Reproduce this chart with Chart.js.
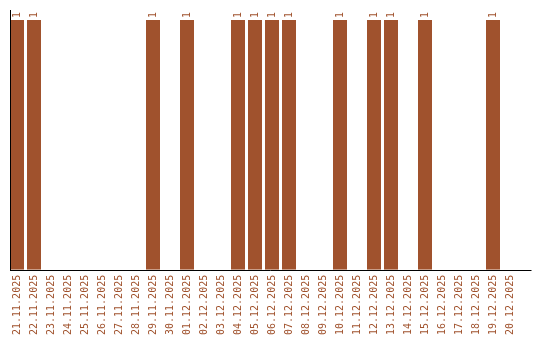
<!DOCTYPE html>
<html>
<head>
<meta charset="utf-8">
<script src="https://cdn.jsdelivr.net/npm/chart.js@4"></script>
<style>
  html, body { margin: 0; padding: 0; background: #fff; }
</style>
</head>
<body>
<canvas id="visits" width="540" height="340"></canvas>
<script>
// days shown on the x axis
const days = [
  '21.11.2025', '22.11.2025', '23.11.2025', '24.11.2025', '25.11.2025',
  '26.11.2025', '27.11.2025', '28.11.2025', '29.11.2025', '30.11.2025',
  '01.12.2025', '02.12.2025', '03.12.2025', '04.12.2025', '05.12.2025',
  '06.12.2025', '07.12.2025', '08.12.2025', '09.12.2025', '10.12.2025',
  '11.12.2025', '12.12.2025', '13.12.2025', '14.12.2025', '15.12.2025',
  '16.12.2025', '17.12.2025', '18.12.2025', '19.12.2025', '20.12.2025'
];
// count per day
const counts = [
  1, 1, 0, 0, 0, 0, 0, 0, 1, 0,
  1, 0, 0, 1, 1, 1, 1, 0, 0, 1,
  0, 1, 1, 0, 1, 0, 0, 0, 1, 0
];

const brown = '#a0522d';
const mono = 'DejaVu Sans Mono';

// axis lines + the small rotated value labels on top of the bars
const barLabels = {
  id: 'barLabels',
  afterDatasetsDraw(chart) {
    const { ctx, chartArea } = chart;
    const meta = chart.getDatasetMeta(0);
    ctx.save();
    ctx.fillStyle = brown;
    ctx.font = '10px "' + mono + '"';
    ctx.textAlign = 'left';
    ctx.textBaseline = 'middle';
    meta.data.forEach((bar, i) => {
      if (!counts[i]) return;
      ctx.save();
      ctx.translate(bar.x, bar.y - 2);
      ctx.rotate(-Math.PI / 2);
      ctx.fillText(String(counts[i]), 0, 0);
      ctx.restore();
    });
    // axes
    ctx.strokeStyle = '#000';
    ctx.lineWidth = 1;
    const x0 = Math.round(chartArea.left + 1.5) + 0.5;
    const yb = Math.round(chartArea.bottom) + 0.5;
    ctx.beginPath();
    ctx.moveTo(x0, chartArea.top);
    ctx.lineTo(x0, yb);
    ctx.moveTo(x0 - 0.5, yb);
    ctx.lineTo(chartArea.right + 13, yb);
    ctx.stroke();
    ctx.restore();
  }
};

new Chart(document.getElementById('visits'), {
  type: 'bar',
  data: {
    labels: days,
    datasets: [{
      data: counts,
      backgroundColor: brown,
      borderWidth: 0,
      barPercentage: 14 / 17,
      categoryPercentage: 1
    }]
  },
  plugins: [barLabels],
  options: {
    responsive: false,
    animation: false,
    layout: { padding: { left: 8.5, right: 21.5, top: 10, bottom: 0 } },
    plugins: { legend: { display: false }, tooltip: { enabled: false } },
    scales: {
      x: {
        offset: true,
        grid: { display: false, drawTicks: false },
        border: { display: false },
        ticks: {
          autoSkip: false,
          minRotation: 90,
          maxRotation: 90,
          padding: 5,
          color: brown,
          font: { family: mono, size: 10 }
        }
      },
      y: {
        display: false,
        min: 0,
        max: 1.04
      }
    }
  }
});
</script>
</body>
</html>
